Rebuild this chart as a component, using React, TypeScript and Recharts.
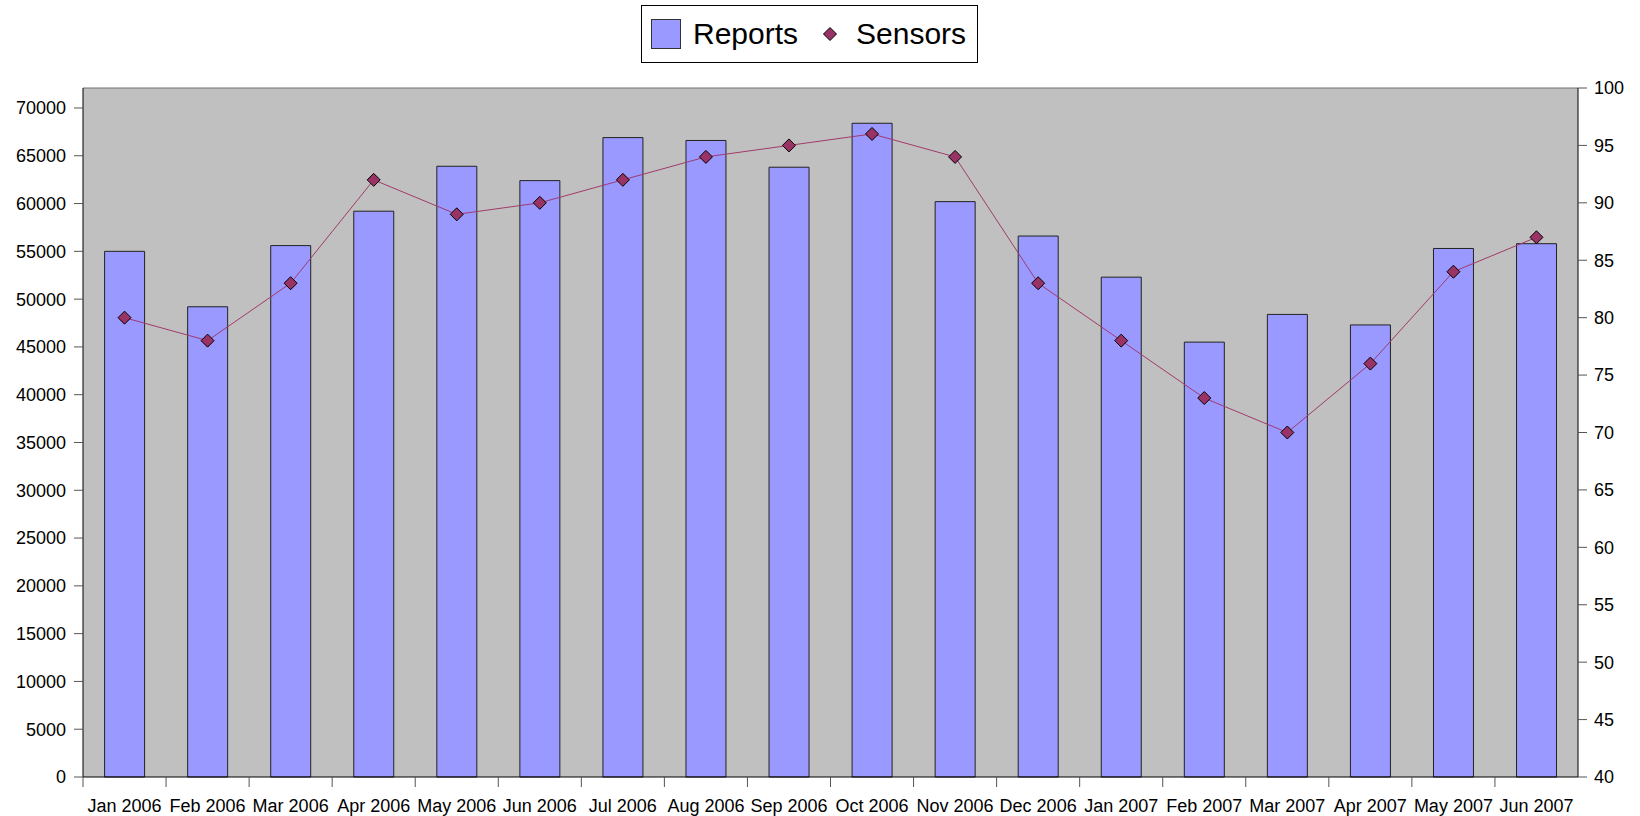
import React from 'react';
import {
  ComposedChart,
  Bar,
  Line,
  XAxis,
  YAxis,
  CartesianGrid,
  ReferenceLine,
} from 'recharts';

const months = [
  'Jan 2006', 'Feb 2006', 'Mar 2006', 'Apr 2006', 'May 2006', 'Jun 2006',
  'Jul 2006', 'Aug 2006', 'Sep 2006', 'Oct 2006', 'Nov 2006', 'Dec 2006',
  'Jan 2007', 'Feb 2007', 'Mar 2007', 'Apr 2007', 'May 2007', 'Jun 2007',
];
const reports = [
  55000, 49200, 55600, 59200, 63900, 62400, 66900, 66600, 63800,
  68400, 60200, 56600, 52300, 45500, 48400, 47300, 55300, 55800,
];
const sensors = [80, 78, 83, 92, 89, 90, 92, 94, 95, 96, 94, 83, 78, 73, 70, 76, 84, 87];
const leftTicks = [0, 5000, 10000, 15000, 20000, 25000, 30000, 35000, 40000, 45000, 50000, 55000, 60000, 65000, 70000];
const rightTicks = [40, 45, 50, 55, 60, 65, 70, 75, 80, 85, 90, 95, 100];
const LEFT_MAX = 72090;

const data = months.map((m, i) => ({ month: m, reports: reports[i], sensors: sensors[i] }));

const FONT = '"Liberation Sans", Arial, sans-serif';
const BAND = (1578 - 83) / months.length;

const MonthTick = ({ x, y, payload }: any) => (
  <g>
    <line x1={x - BAND / 2} y1={y - 8} x2={x - BAND / 2} y2={y + 2} stroke="#555" />
    <text x={x} y={y + 27} textAnchor="middle" fontSize={18} fontFamily={FONT} fill="#000">
      {payload.value}
    </text>
  </g>
);

const Diamond = ({ cx, cy }: any) => {
  if (cx == null || cy == null) return null;
  const r = 6.5;
  return (
    <polygon
      points={`${cx},${cy - r} ${cx + r},${cy} ${cx},${cy + r} ${cx - r},${cy}`}
      fill="#993366"
      stroke="#000"
      strokeWidth={1}
    />
  );
};

const LegendBox = () => (
  <div
    style={{
      position: 'absolute',
      left: 641,
      top: 5,
      width: 337,
      height: 58,
      border: '1px solid #000',
      background: '#fff',
      display: 'flex',
      alignItems: 'center',
      fontFamily: FONT,
      fontSize: 30,
      color: '#000',
      boxSizing: 'border-box',
      zIndex: 2,
    }}
  >
    <span style={{ width: 30, height: 30, background: '#9999ff', border: '1px solid #333', marginLeft: 9, marginRight: 12, boxSizing: 'border-box' }} />
    <span>Reports</span>
    <svg width={16} height={16} style={{ marginLeft: 24, marginRight: 18 }}>
      <polygon points="8,1.5 14.5,8 8,14.5 1.5,8" fill="#993366" stroke="#000" />
    </svg>
    <span>Sensors</span>
  </div>
);

export default function App() {
  return (
    <div style={{ position: 'absolute', left: 0, top: 0, width: 1640, height: 816, background: '#fff' }}>
      <LegendBox />
      <ComposedChart
        width={1640}
        height={816}
        data={data}
        margin={{ top: 88, right: 0, left: 0, bottom: 0 }}
        barCategoryGap="26%"
      >
        <CartesianGrid fill="#c0c0c0" horizontal={false} vertical={false} />
        <XAxis
          dataKey="month"
          xAxisId="x"
          height={39}
          axisLine={{ stroke: '#000' }}
          tickLine={false}
          interval={0}
          tick={<MonthTick />}
        />
        <YAxis
          yAxisId="left"
          orientation="left"
          width={83}
          domain={[0, LEFT_MAX]}
          ticks={leftTicks}
          interval={0}
          axisLine={{ stroke: '#000' }}
          tickLine={{ stroke: '#555' }}
          tickSize={9}
          tickMargin={8}
          tick={{ fontSize: 18, fontFamily: FONT, fill: '#000' }}
        />
        <YAxis
          yAxisId="right"
          orientation="right"
          width={62}
          domain={[40, 100]}
          ticks={rightTicks}
          interval={0}
          axisLine={{ stroke: '#000' }}
          tickLine={{ stroke: '#555' }}
          tickSize={9}
          tickMargin={7}
          tick={{ fontSize: 18, fontFamily: FONT, fill: '#000' }}
        />
        <ReferenceLine yAxisId="left" xAxisId="x" y={LEFT_MAX} stroke="#707070" />
        <Bar
          yAxisId="left"
          xAxisId="x"
          dataKey="reports"
          name="Reports"
          fill="#9999ff"
          stroke="#222"
          strokeWidth={1}
          isAnimationActive={false}
        />
        <Line
          yAxisId="right"
          xAxisId="x"
          dataKey="sensors"
          name="Sensors"
          type="linear"
          stroke="#a03a6c"
          strokeWidth={1}
          dot={<Diamond />}
          activeDot={false}
          isAnimationActive={false}
        />
      </ComposedChart>
    </div>
  );
}
